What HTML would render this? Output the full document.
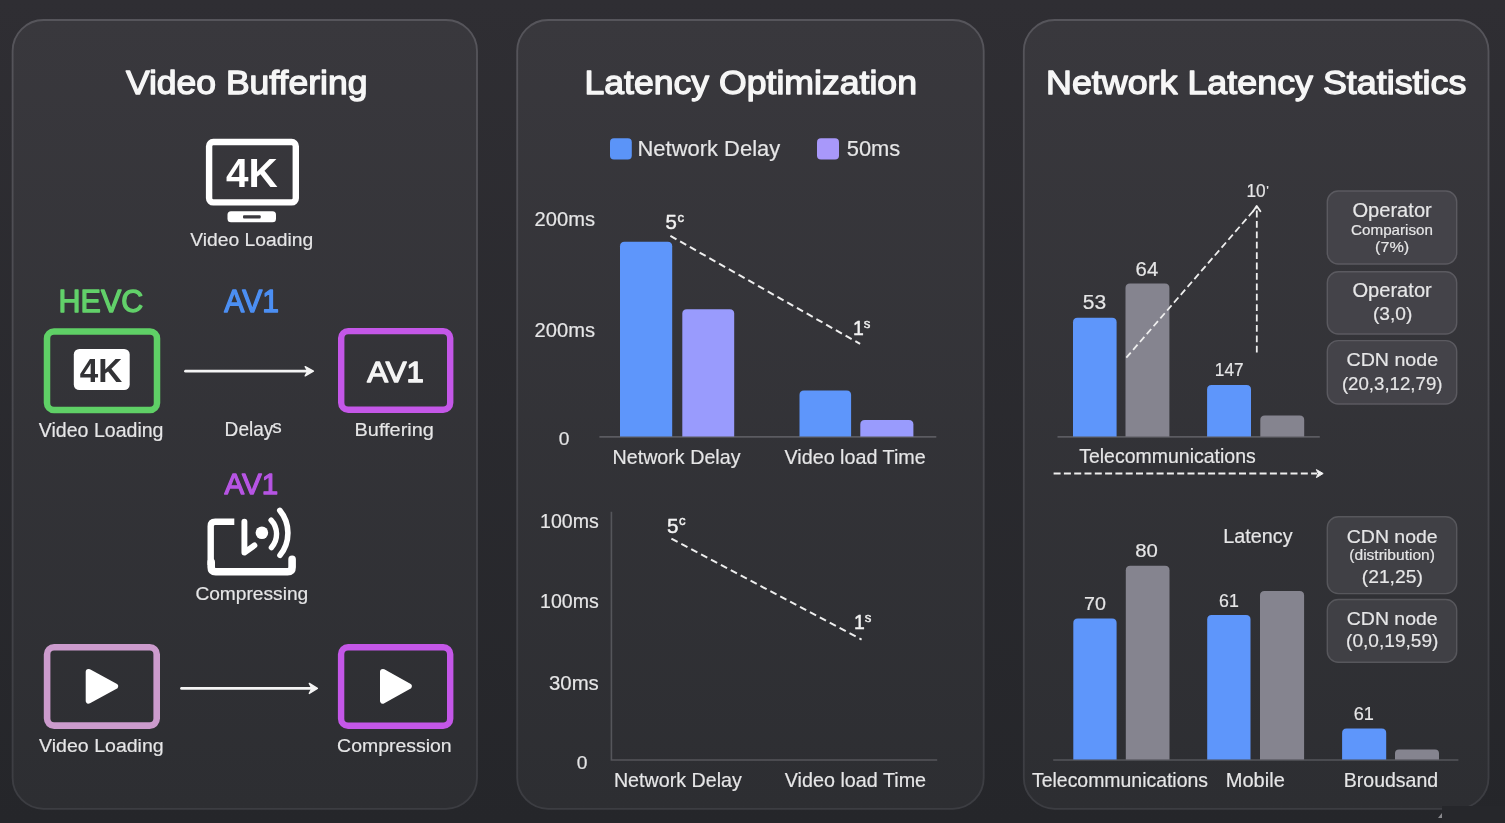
<!DOCTYPE html>
<html lang="en"><head><meta charset="utf-8"><title>Video Buffering, Latency Optimization, Network Latency Statistics</title>
<style>html,body{margin:0;padding:0;background:#2b2b30;overflow:hidden}svg{display:block}text{white-space:pre}</style>
</head><body>
<svg width="1505" height="823" viewBox="0 0 1505 823" font-family="'Liberation Sans', Arial, sans-serif">
<defs>
<linearGradient id="bg" x1="0" y1="0" x2="0" y2="1"><stop offset="0" stop-color="#2f2e33"/><stop offset="1" stop-color="#25262a"/></linearGradient>
<linearGradient id="pn" x1="0" y1="0" x2="0" y2="1"><stop offset="0" stop-color="#39383d"/><stop offset="1" stop-color="#2d2e32"/></linearGradient>
<linearGradient id="bd" x1="0" y1="0" x2="0" y2="1"><stop offset="0" stop-color="#56555b"/><stop offset="1" stop-color="#3c3d42"/></linearGradient>
</defs>
<rect width="1505" height="823" fill="url(#bg)"/>
<rect x="12.6" y="20" width="464.4" height="788.8" rx="31" fill="url(#pn)" stroke="url(#bd)" stroke-width="1.8"/>
<rect x="517.2" y="20" width="466.5" height="788.8" rx="31" fill="url(#pn)" stroke="url(#bd)" stroke-width="1.8"/>
<rect x="1023.8" y="20" width="464.7" height="788.8" rx="31" fill="url(#pn)" stroke="url(#bd)" stroke-width="1.8"/>
<rect x="1442" y="806" width="63" height="17" fill="#26272b"/>
<path d="M1438,818 L1442,813 L1442,818 Z" fill="#8a8a8e"/>
<text x="125.9" y="93.9" font-size="33.4" textLength="241.5" lengthAdjust="spacingAndGlyphs" fill="#f6f6f6" stroke="#f6f6f6" stroke-width="1.3" stroke-linejoin="round">Video Buffering</text>
<rect x="209.1" y="142" width="86.7" height="60.4" rx="4.2" fill="none" stroke="#fff" stroke-width="6.4"/>
<rect x="227.5" y="211.2" width="48.5" height="11" rx="3.5" fill="#fff"/>
<rect x="243" y="215.2" width="17.7" height="3.2" rx="1" fill="#3a393e"/>
<text x="226.0" y="186.5" font-size="40.6" textLength="51.7" lengthAdjust="spacingAndGlyphs" fill="#fff" font-weight="bold">4K</text>
<text x="190.2" y="246.3" font-size="19.2" textLength="123.0" lengthAdjust="spacingAndGlyphs" fill="#e6e6e7" stroke="#e6e6e7" stroke-width="0.18" stroke-linejoin="round">Video Loading</text>
<text x="58.6" y="312.1" font-size="30.8" textLength="84.6" lengthAdjust="spacingAndGlyphs" fill="#62d16a" stroke="#62d16a" stroke-width="1.3" stroke-linejoin="round">HEVC</text>
<text x="224.3" y="312.1" font-size="30.8" textLength="54.7" lengthAdjust="spacingAndGlyphs" fill="#4c8ff3" stroke="#4c8ff3" stroke-width="1.3" stroke-linejoin="round">AV1</text>
<rect x="47" y="331.6" width="110" height="78.4" rx="7" fill="none" stroke="#5fd066" stroke-width="6.5"/>
<rect x="73.8" y="349.0" width="55.9" height="41.0" rx="5.5" fill="#fff"/>
<text x="79.8" y="382.0" font-size="33.3" textLength="42.5" lengthAdjust="spacingAndGlyphs" fill="#333336" font-weight="bold">4K</text>
<path d="M185.5,371.2 H309" stroke="#f4f4f4" stroke-width="2.7" fill="none" stroke-linecap="round"/>
<path d="M305.2,366.6 L313.4,371.2 L305.2,375.8 L307.8,371.2 Z" fill="#f4f4f4" stroke="#f4f4f4" stroke-width="1.4" stroke-linejoin="round"/>
<rect x="341.2" y="331.1" width="109" height="78.7" rx="7" fill="none" stroke="#c457e8" stroke-width="6.4"/>
<text x="367.2" y="381.6" font-size="30.1" textLength="56.5" lengthAdjust="spacingAndGlyphs" fill="#f4f4f4" stroke="#f4f4f4" stroke-width="1.4" stroke-linejoin="round">AV1</text>
<text x="38.8" y="436.6" font-size="19.8" textLength="124.7" lengthAdjust="spacingAndGlyphs" fill="#e6e6e7" stroke="#e6e6e7" stroke-width="0.18" stroke-linejoin="round">Video Loading</text>
<text x="224.6" y="435.5" font-size="19.8" textLength="48.8" lengthAdjust="spacingAndGlyphs" fill="#e6e6e7" stroke="#e6e6e7" stroke-width="0.18" stroke-linejoin="round">Delay</text>
<text x="276.9" y="432.9" font-size="18.9" text-anchor="middle" fill="#e6e6e7" stroke="#e6e6e7" stroke-width="0.18" stroke-linejoin="round">s</text>
<text x="354.6" y="436.0" font-size="19.2" textLength="79.2" lengthAdjust="spacingAndGlyphs" fill="#e6e6e7" stroke="#e6e6e7" stroke-width="0.18" stroke-linejoin="round">Buffering</text>
<text x="224.6" y="493.5" font-size="30.3" textLength="53.6" lengthAdjust="spacingAndGlyphs" fill="#b755e4" stroke="#b755e4" stroke-width="1.3" stroke-linejoin="round">AV1</text>
<path d="M234.3,521.7 H215.2 Q210.7,521.7 210.7,526.2 V565" stroke="#fff" stroke-width="6.4" fill="none" stroke-linejoin="round"/>
<path d="M211.2,562 V567.3 Q211.2,571.8 215.7,571.8 H287.6 Q292.1,571.8 292.1,567.3 V559.3" stroke="#fff" stroke-width="7.6" fill="none" stroke-linecap="round" stroke-linejoin="round"/>
<path d="M244.4,521.6 V552.6 L254.4,545.4" stroke="#fff" stroke-width="5.9" fill="none" stroke-linecap="round" stroke-linejoin="round"/>
<circle cx="261.9" cy="532.7" r="6.3" fill="#fff"/>
<path d="M271.1,520.2 A20.3,20.3 0 0 1 271.4,547.6" stroke="#fff" stroke-width="5.4" fill="none" stroke-linecap="round"/>
<path d="M279.8,510.4 A35.5,35.5 0 0 1 280.0,555.3" stroke="#fff" stroke-width="5.6" fill="none" stroke-linecap="round"/>
<text x="195.4" y="600.3" font-size="18.9" textLength="112.8" lengthAdjust="spacingAndGlyphs" fill="#e6e6e7" stroke="#e6e6e7" stroke-width="0.18" stroke-linejoin="round">Compressing</text>
<rect x="47.1" y="647.3" width="109.6" height="78.3" rx="7" fill="none" stroke="#cc9bcd" stroke-width="6.6"/>
<path d="M88.6,671.8 L115.2,686.3 L88.6,700.8 Z" fill="#fff" stroke="#fff" stroke-width="5.8" stroke-linejoin="round"/>
<path d="M181.5,688.4 H313" stroke="#f4f4f4" stroke-width="2.7" fill="none" stroke-linecap="round"/>
<path d="M309.3,683.4 L317.4,688.4 L309.3,693.4 L312,688.4 Z" fill="#f4f4f4" stroke="#f4f4f4" stroke-width="1.4" stroke-linejoin="round"/>
<rect x="341.1" y="647.3" width="109.1" height="78.4" rx="7" fill="none" stroke="#c457e8" stroke-width="6.4"/>
<path d="M382.9,671.8 L408.9,686.3 L382.9,700.8 Z" fill="#fff" stroke="#fff" stroke-width="5.8" stroke-linejoin="round"/>
<text x="39.1" y="751.7" font-size="19.2" textLength="124.6" lengthAdjust="spacingAndGlyphs" fill="#e6e6e7" stroke="#e6e6e7" stroke-width="0.18" stroke-linejoin="round">Video Loading</text>
<text x="337.1" y="751.7" font-size="18.9" textLength="114.6" lengthAdjust="spacingAndGlyphs" fill="#e6e6e7" stroke="#e6e6e7" stroke-width="0.18" stroke-linejoin="round">Compression</text>
<text x="584.4" y="94.0" font-size="33.2" textLength="332.6" lengthAdjust="spacingAndGlyphs" fill="#f6f6f6" stroke="#f6f6f6" stroke-width="1.3" stroke-linejoin="round">Latency Optimization</text>
<rect x="610.0" y="138.2" width="21.8" height="21.4" rx="4" fill="#5b94f8"/>
<text x="637.5" y="156.2" font-size="22.1" textLength="142.7" lengthAdjust="spacingAndGlyphs" fill="#e6e6e7" stroke="#e6e6e7" stroke-width="0.18" stroke-linejoin="round">Network Delay</text>
<rect x="817.0" y="138.2" width="22.0" height="21.4" rx="4" fill="#a898fa"/>
<text x="846.7" y="156.2" font-size="21.8" textLength="53.6" lengthAdjust="spacingAndGlyphs" fill="#e6e6e7" stroke="#e6e6e7" stroke-width="0.18" stroke-linejoin="round">50ms</text>
<text x="534.6" y="226.1" font-size="19.8" textLength="60.4" lengthAdjust="spacingAndGlyphs" fill="#e6e6e7" stroke="#e6e6e7" stroke-width="0.18" stroke-linejoin="round">200ms</text>
<text x="534.6" y="336.9" font-size="19.8" textLength="60.4" lengthAdjust="spacingAndGlyphs" fill="#e6e6e7" stroke="#e6e6e7" stroke-width="0.18" stroke-linejoin="round">200ms</text>
<text x="564.0" y="444.9" font-size="19.2" text-anchor="middle" fill="#e6e6e7" stroke="#e6e6e7" stroke-width="0.18" stroke-linejoin="round">0</text>
<path d="M599.4,436.9 H936.3" stroke="#5b5b61" stroke-width="1.6"/>
<path d="M620.0,436.6 V246.3 Q620.0,241.8 624.5,241.8 H667.7 Q672.2,241.8 672.2,246.3 V436.6 Z" fill="#5e96fb"/>
<path d="M682.3,436.6 V313.7 Q682.3,309.2 686.8,309.2 H729.7 Q734.2,309.2 734.2,313.7 V436.6 Z" fill="#999bfd"/>
<path d="M799.5,436.6 V395.1 Q799.5,390.6 804.0,390.6 H846.6 Q851.1,390.6 851.1,395.1 V436.6 Z" fill="#5e96fb"/>
<path d="M860.3,436.6 V424.5 Q860.3,420.0 864.8,420.0 H908.9 Q913.4,420.0 913.4,424.5 V436.6 Z" fill="#999bfd"/>
<path d="M670.4,235.9 L860.1,343.9" stroke="#eeeeee" stroke-width="2" stroke-dasharray="7 4.2" fill="none"/>
<text x="671.1" y="229.4" font-size="20.4" text-anchor="middle" fill="#f2f2f2" stroke="#f2f2f2" stroke-width="0.45" stroke-linejoin="round">5</text>
<text x="680.8" y="222.3" font-size="13.2" text-anchor="middle" fill="#f2f2f2" stroke="#f2f2f2" stroke-width="0.45" stroke-linejoin="round">c</text>
<text x="858.4" y="335.0" font-size="19.4" text-anchor="middle" fill="#f2f2f2" stroke="#f2f2f2" stroke-width="0.45" stroke-linejoin="round">1</text>
<text x="867.0" y="327.8" font-size="13.2" text-anchor="middle" fill="#f2f2f2" stroke="#f2f2f2" stroke-width="0.45" stroke-linejoin="round">s</text>
<text x="612.5" y="463.5" font-size="20.3" textLength="128.0" lengthAdjust="spacingAndGlyphs" fill="#e6e6e7" stroke="#e6e6e7" stroke-width="0.18" stroke-linejoin="round">Network Delay</text>
<text x="784.5" y="463.5" font-size="20.3" textLength="141.2" lengthAdjust="spacingAndGlyphs" fill="#e6e6e7" stroke="#e6e6e7" stroke-width="0.18" stroke-linejoin="round">Video load Time</text>
<text x="540.1" y="527.5" font-size="20.1" textLength="58.7" lengthAdjust="spacingAndGlyphs" fill="#e6e6e7" stroke="#e6e6e7" stroke-width="0.18" stroke-linejoin="round">100ms</text>
<text x="540.1" y="608.0" font-size="20.1" textLength="58.7" lengthAdjust="spacingAndGlyphs" fill="#e6e6e7" stroke="#e6e6e7" stroke-width="0.18" stroke-linejoin="round">100ms</text>
<text x="549.0" y="689.5" font-size="20.1" textLength="49.8" lengthAdjust="spacingAndGlyphs" fill="#e6e6e7" stroke="#e6e6e7" stroke-width="0.18" stroke-linejoin="round">30ms</text>
<text x="582.1" y="769.2" font-size="19.2" text-anchor="middle" fill="#e6e6e7" stroke="#e6e6e7" stroke-width="0.18" stroke-linejoin="round">0</text>
<path d="M611.4,511.7 V760 H937.2" stroke="#55565b" stroke-width="1.6" fill="none"/>
<path d="M671.4,538.7 L861.6,639.6" stroke="#eeeeee" stroke-width="2" stroke-dasharray="7 4.2" fill="none"/>
<text x="672.7" y="532.6" font-size="20.6" text-anchor="middle" fill="#f2f2f2" stroke="#f2f2f2" stroke-width="0.45" stroke-linejoin="round">5</text>
<text x="682.4" y="525.3" font-size="13.2" text-anchor="middle" fill="#f2f2f2" stroke="#f2f2f2" stroke-width="0.45" stroke-linejoin="round">c</text>
<text x="859.4" y="629.0" font-size="19.4" text-anchor="middle" fill="#f2f2f2" stroke="#f2f2f2" stroke-width="0.45" stroke-linejoin="round">1</text>
<text x="868.0" y="621.8" font-size="13.2" text-anchor="middle" fill="#f2f2f2" stroke="#f2f2f2" stroke-width="0.45" stroke-linejoin="round">s</text>
<text x="613.9" y="787.0" font-size="20.2" textLength="128.0" lengthAdjust="spacingAndGlyphs" fill="#e6e6e7" stroke="#e6e6e7" stroke-width="0.18" stroke-linejoin="round">Network Delay</text>
<text x="784.8" y="787.0" font-size="20.2" textLength="141.3" lengthAdjust="spacingAndGlyphs" fill="#e6e6e7" stroke="#e6e6e7" stroke-width="0.18" stroke-linejoin="round">Video load Time</text>
<text x="1046.0" y="94.2" font-size="33.2" textLength="420.4" lengthAdjust="spacingAndGlyphs" fill="#f6f6f6" stroke="#f6f6f6" stroke-width="1.3" stroke-linejoin="round">Network Latency Statistics</text>
<text x="1246.4" y="196.8" font-size="19.2" textLength="19.2" lengthAdjust="spacingAndGlyphs" fill="#e6e6e7" stroke="#e6e6e7" stroke-width="0.18" stroke-linejoin="round">10</text>
<text x="1267.5" y="195.1" font-size="13.5" text-anchor="middle" fill="#e6e6e7" stroke="#e6e6e7" stroke-width="0.18" stroke-linejoin="round">'</text>
<path d="M1057.5,436.9 H1319.8" stroke="#5b5b61" stroke-width="1.6"/>
<path d="M1073.0,436.6 V322.2 Q1073.0,317.7 1077.5,317.7 H1112.1 Q1116.6,317.7 1116.6,322.2 V436.6 Z" fill="#5e96fb"/>
<path d="M1125.5,436.6 V288.0 Q1125.5,283.5 1130.0,283.5 H1164.9 Q1169.4,283.5 1169.4,288.0 V436.6 Z" fill="#85848f"/>
<path d="M1207.1,436.6 V389.4 Q1207.1,384.9 1211.6,384.9 H1246.5 Q1251.0,384.9 1251.0,389.4 V436.6 Z" fill="#5e96fb"/>
<path d="M1260.3,436.6 V420.1 Q1260.3,415.6 1264.8,415.6 H1299.7 Q1304.2,415.6 1304.2,420.1 V436.6 Z" fill="#85848f"/>
<path d="M1126.3,357.7 L1256.3,207.5" stroke="#eeeeee" stroke-width="1.8" stroke-dasharray="6.8 3.6" fill="none"/>
<path d="M1256.8,352.6 V209" stroke="#eeeeee" stroke-width="1.8" stroke-dasharray="6.8 3.6" fill="none"/>
<path d="M1253,211.6 L1256.7,206 L1260.4,211.2" stroke="#eeeeee" stroke-width="1.9" fill="none" stroke-linecap="round" stroke-linejoin="round"/>
<text x="1082.7" y="308.6" font-size="19.5" textLength="23.4" lengthAdjust="spacingAndGlyphs" fill="#e6e6e7" stroke="#e6e6e7" stroke-width="0.18" stroke-linejoin="round">53</text>
<text x="1135.6" y="275.6" font-size="19.5" textLength="22.6" lengthAdjust="spacingAndGlyphs" fill="#e6e6e7" stroke="#e6e6e7" stroke-width="0.18" stroke-linejoin="round">64</text>
<text x="1214.8" y="375.9" font-size="18.9" textLength="28.8" lengthAdjust="spacingAndGlyphs" fill="#e6e6e7" stroke="#e6e6e7" stroke-width="0.18" stroke-linejoin="round">147</text>
<text x="1079.2" y="463.3" font-size="20.3" textLength="176.6" lengthAdjust="spacingAndGlyphs" fill="#e6e6e7" stroke="#e6e6e7" stroke-width="0.18" stroke-linejoin="round">Telecommunications</text>
<path d="M1053.6,473.5 H1317" stroke="#eeeeee" stroke-width="1.9" stroke-dasharray="7 3.3" fill="none"/>
<path d="M1316.4,469.6 L1323.2,473.5 L1316.4,477.6 L1318.2,473.5 Z" fill="#f2f2f2" stroke="#f2f2f2" stroke-width="1" stroke-linejoin="round"/>
<rect x="1327.3" y="191.0" width="129.4" height="73.0" rx="11" fill="#444349" stroke="#5b5a60" stroke-width="1.4"/>
<rect x="1327.3" y="271.8" width="129.4" height="62.2" rx="11" fill="#444349" stroke="#5b5a60" stroke-width="1.4"/>
<rect x="1327.3" y="340.6" width="129.4" height="63.4" rx="11" fill="#444349" stroke="#5b5a60" stroke-width="1.4"/>
<rect x="1327.3" y="516.8" width="129.4" height="76.8" rx="11" fill="#404045" stroke="#57575c" stroke-width="1.4"/>
<rect x="1327.3" y="599.5" width="129.4" height="62.8" rx="11" fill="#404045" stroke="#57575c" stroke-width="1.4"/>
<text x="1352.4" y="217.2" font-size="19.6" textLength="79.4" lengthAdjust="spacingAndGlyphs" fill="#e6e6e7" stroke="#e6e6e7" stroke-width="0.18" stroke-linejoin="round">Operator</text>
<text x="1351.1" y="235.3" font-size="14.3" textLength="81.9" lengthAdjust="spacingAndGlyphs" fill="#e6e6e7" stroke="#e6e6e7" stroke-width="0.18" stroke-linejoin="round">Comparison</text>
<text x="1375.0" y="252.2" font-size="15.1" textLength="34.2" lengthAdjust="spacingAndGlyphs" fill="#e6e6e7" stroke="#e6e6e7" stroke-width="0.18" stroke-linejoin="round">(7%)</text>
<text x="1352.4" y="297.4" font-size="19.3" textLength="79.4" lengthAdjust="spacingAndGlyphs" fill="#e6e6e7" stroke="#e6e6e7" stroke-width="0.18" stroke-linejoin="round">Operator</text>
<text x="1372.9" y="319.5" font-size="18.6" textLength="39.4" lengthAdjust="spacingAndGlyphs" fill="#e6e6e7" stroke="#e6e6e7" stroke-width="0.18" stroke-linejoin="round">(3,0)</text>
<text x="1346.5" y="365.9" font-size="19.2" textLength="91.6" lengthAdjust="spacingAndGlyphs" fill="#e6e6e7" stroke="#e6e6e7" stroke-width="0.18" stroke-linejoin="round">CDN node</text>
<text x="1341.9" y="389.8" font-size="18.9" textLength="100.6" lengthAdjust="spacingAndGlyphs" fill="#e6e6e7" stroke="#e6e6e7" stroke-width="0.18" stroke-linejoin="round">(20,3,12,79)</text>
<text x="1346.8" y="542.6" font-size="19.2" textLength="90.8" lengthAdjust="spacingAndGlyphs" fill="#e6e6e7" stroke="#e6e6e7" stroke-width="0.18" stroke-linejoin="round">CDN node</text>
<text x="1349.3" y="560.1" font-size="14.0" textLength="85.6" lengthAdjust="spacingAndGlyphs" fill="#e6e6e7" stroke="#e6e6e7" stroke-width="0.18" stroke-linejoin="round">(distribution)</text>
<text x="1361.8" y="583.0" font-size="18.6" textLength="61.0" lengthAdjust="spacingAndGlyphs" fill="#e6e6e7" stroke="#e6e6e7" stroke-width="0.18" stroke-linejoin="round">(21,25)</text>
<text x="1346.8" y="625.0" font-size="19.0" textLength="90.8" lengthAdjust="spacingAndGlyphs" fill="#e6e6e7" stroke="#e6e6e7" stroke-width="0.18" stroke-linejoin="round">CDN node</text>
<text x="1346.1" y="646.9" font-size="18.6" textLength="92.3" lengthAdjust="spacingAndGlyphs" fill="#e6e6e7" stroke="#e6e6e7" stroke-width="0.18" stroke-linejoin="round">(0,0,19,59)</text>
<text x="1223.3" y="543.4" font-size="20.1" textLength="69.3" lengthAdjust="spacingAndGlyphs" fill="#e6e6e7" stroke="#e6e6e7" stroke-width="0.18" stroke-linejoin="round">Latency</text>
<path d="M1053.2,760 H1458.4" stroke="#55565b" stroke-width="1.6"/>
<path d="M1073.3,759.6 V623.0 Q1073.3,618.5 1077.8,618.5 H1112.1 Q1116.6,618.5 1116.6,623.0 V759.6 Z" fill="#5e96fb"/>
<path d="M1125.8,759.6 V570.2 Q1125.8,565.7 1130.3,565.7 H1165.0 Q1169.5,565.7 1169.5,570.2 V759.6 Z" fill="#85848f"/>
<path d="M1207.2,759.6 V619.5 Q1207.2,615.0 1211.7,615.0 H1246.0 Q1250.5,615.0 1250.5,619.5 V759.6 Z" fill="#5e96fb"/>
<path d="M1260.0,759.6 V595.5 Q1260.0,591.0 1264.5,591.0 H1299.6 Q1304.1,591.0 1304.1,595.5 V759.6 Z" fill="#85848f"/>
<path d="M1342.1,759.6 V733.0 Q1342.1,728.5 1346.6,728.5 H1381.7 Q1386.2,728.5 1386.2,733.0 V759.6 Z" fill="#5e96fb"/>
<path d="M1395.0,759.6 V753.6 Q1395.0,749.6 1399.0,749.6 H1435.0 Q1439.0,749.6 1439.0,753.6 V759.6 Z" fill="#85848f"/>
<text x="1084.1" y="609.6" font-size="19.2" textLength="21.9" lengthAdjust="spacingAndGlyphs" fill="#e6e6e7" stroke="#e6e6e7" stroke-width="0.18" stroke-linejoin="round">70</text>
<text x="1135.2" y="556.8" font-size="19.2" textLength="22.6" lengthAdjust="spacingAndGlyphs" fill="#e6e6e7" stroke="#e6e6e7" stroke-width="0.18" stroke-linejoin="round">80</text>
<text x="1219.1" y="606.8" font-size="19.2" textLength="19.8" lengthAdjust="spacingAndGlyphs" fill="#e6e6e7" stroke="#e6e6e7" stroke-width="0.18" stroke-linejoin="round">61</text>
<text x="1353.7" y="719.6" font-size="18.9" textLength="20.2" lengthAdjust="spacingAndGlyphs" fill="#e6e6e7" stroke="#e6e6e7" stroke-width="0.18" stroke-linejoin="round">61</text>
<text x="1032.0" y="786.5" font-size="20.2" textLength="176.0" lengthAdjust="spacingAndGlyphs" fill="#e6e6e7" stroke="#e6e6e7" stroke-width="0.18" stroke-linejoin="round">Telecommunications</text>
<text x="1225.8" y="786.5" font-size="20.2" textLength="59.0" lengthAdjust="spacingAndGlyphs" fill="#e6e6e7" stroke="#e6e6e7" stroke-width="0.18" stroke-linejoin="round">Mobile</text>
<text x="1343.8" y="786.5" font-size="20.2" textLength="94.3" lengthAdjust="spacingAndGlyphs" fill="#e6e6e7" stroke="#e6e6e7" stroke-width="0.18" stroke-linejoin="round">Broudsand</text>
</svg>
</body></html>
